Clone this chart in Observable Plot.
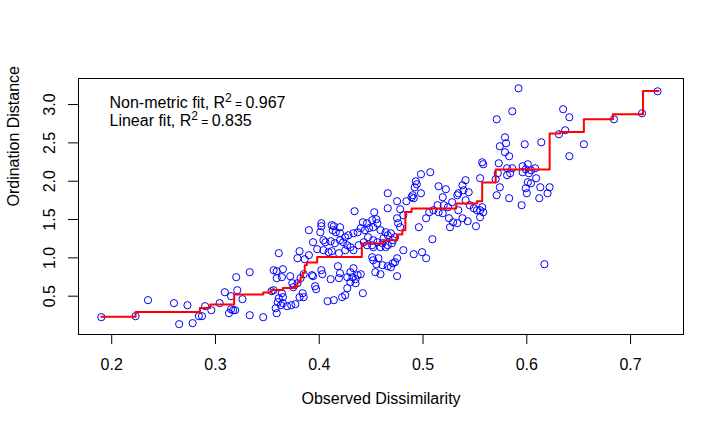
<!DOCTYPE html>
<html><head><meta charset="utf-8">
<script src="https://cdn.jsdelivr.net/npm/d3@7"></script>
<script src="https://cdn.jsdelivr.net/npm/@observablehq/plot@0.6"></script>
<style>body{margin:0;background:#fff;}</style>
</head><body><div id="chart"></div>
<script>
// Observed dissimilarity (x) and ordination distance (y) for each pair
const obsX = [
0.190,0.223,0.235,0.260,0.273,0.265,0.278,0.284,0.287,0.290,0.296,0.304,0.309,0.313,0.315,0.317,0.319,0.315,0.320,0.321,0.326,0.333,0.333,0.346,
0.390,0.402,0.402,0.401,0.412,0.414,0.420,0.413,0.416,0.394,0.404,0.406,0.411,0.415,0.381,0.390,0.398,0.404,0.409,0.412,0.419,0.361,0.379,0.386,
0.356,0.359,0.365,0.364,0.359,0.372,0.385,0.393,0.394,0.402,0.403,0.411,0.418,0.420,0.419,0.382,0.379,0.374,0.375,0.396,0.397,0.354,0.356,0.364,
0.365,0.361,0.384,0.385,0.381,0.360,0.365,0.363,0.369,0.373,0.377,0.358,0.359,0.408,0.414,
0.498,0.507,0.493,0.494,0.492,0.498,0.490,0.489,0.491,0.466,0.475,0.484,0.515,0.434,0.453,0.466,0.478,0.514,0.510,0.515,0.506,0.481,0.475,0.476,
0.478,0.503,0.442,0.446,0.451,0.455,0.456,0.452,0.448,0.444,0.440,0.437,0.433,0.428,0.425,0.423,0.427,0.430,0.425,0.433,0.420,0.420,0.459,0.464,
0.466,0.462,0.461,0.466,0.470,0.471,0.473,0.469,0.447,0.452,0.456,0.451,0.446,0.443,0.438,0.452,0.459,0.464,0.496,0.509,0.481,0.491,0.499,0.503,
0.451,0.452,0.457,0.455,0.461,0.466,0.469,0.471,0.475,0.473,0.433,0.430,0.427,0.432,0.435,0.437,0.440,0.430,0.435,0.442,0.427,0.425,0.422,0.454,
0.459,0.475,
0.574,0.580,0.598,0.579,0.583,0.557,0.558,0.573,0.581,0.586,0.596,0.601,0.604,0.572,0.584,0.581,0.596,0.599,0.555,0.570,0.601,0.599,0.600,0.574,
0.541,0.538,0.539,0.544,0.534,0.533,0.522,0.519,0.528,0.520,0.524,0.571,0.583,0.595,0.541,0.545,0.549,0.552,0.557,0.558,0.555,0.519,0.525,0.529,
0.533,0.526,0.538,0.543,0.551,0.555,0.534,0.592,0.586,0.571,0.579,
0.635,0.641,0.684,0.637,0.631,0.614,0.655,0.641,0.711,0.726,0.608,0.602,0.609,0.604,0.613,0.622,0.620,0.612,0.617
];
const ordY = [
0.226,0.239,0.448,0.409,0.382,0.135,0.148,0.239,0.239,0.370,0.317,0.409,0.552,0.278,0.500,0.317,0.317,0.330,0.748,0.578,0.461,0.813,0.252,0.226,
1.361,1.452,1.413,1.334,1.426,1.413,1.400,1.361,1.334,1.204,1.230,1.204,1.217,1.191,1.087,1.035,1.113,1.100,1.074,1.087,1.061,1.061,0.995,0.982,
0.839,0.826,0.852,0.748,0.735,0.761,0.787,0.774,0.761,0.839,0.787,0.722,0.891,0.800,0.735,0.735,0.669,0.669,0.617,0.630,0.591,0.565,0.578,0.539,
0.487,0.474,0.539,0.487,0.487,0.422,0.409,0.382,0.369,0.382,0.396,0.343,0.278,0.435,0.448,
2.091,2.117,1.999,1.960,1.921,1.843,1.817,1.791,1.778,1.843,1.739,1.739,1.934,1.608,1.595,1.647,1.634,1.687,1.621,1.595,1.595,1.556,1.517,1.452,
1.400,1.517,1.465,1.452,1.491,1.504,1.452,1.400,1.387,1.361,1.387,1.334,1.321,1.295,1.269,1.204,1.165,1.139,1.100,1.100,1.321,1.230,1.361,1.334,
1.295,1.256,1.191,1.165,1.191,1.230,1.269,1.321,1.269,1.230,1.204,1.165,1.165,1.204,1.165,1.139,1.139,1.139,1.400,1.243,1.100,1.048,1.074,0.995,
1.008,0.969,0.995,0.917,0.904,0.891,0.878,0.930,0.995,0.943,0.865,0.813,0.748,0.748,0.722,0.774,0.787,0.683,0.669,0.539,0.604,0.513,0.487,0.813,
0.787,0.761,
2.456,2.495,2.482,2.378,2.326,2.247,2.221,2.234,2.169,2.169,2.195,2.221,2.143,2.104,2.104,2.078,2.117,2.156,2.039,2.026,1.987,1.908,1.843,1.921,
2.013,1.947,1.882,1.856,1.843,1.817,1.895,1.791,1.726,1.687,1.661,1.817,1.778,1.687,1.752,1.687,1.647,1.621,1.661,1.595,1.621,1.582,1.517,1.465,
1.452,1.400,1.517,1.478,1.413,1.530,1.621,3.212,2.912,2.808,2.573,
2.939,2.834,2.808,2.665,2.613,2.508,2.482,2.326,2.886,3.173,2.169,2.104,2.039,1.973,1.921,1.921,1.843,1.778,0.917
];
// Monotone (non-metric) step fit
const fitX = [0.190,0.223,0.285,0.295,0.318,0.346,0.354,0.365,0.377,0.379,0.382,0.384,0.386,0.388,0.398,0.441,0.462,0.475,0.480,0.483,0.489,0.532,0.552,0.557,0.570,0.622,0.632,0.655,0.683,0.712,0.727];
const fitY = [0.233,0.295,0.347,0.392,0.522,0.548,0.582,0.608,0.630,0.682,0.744,0.804,0.904,0.939,1.012,1.187,1.230,1.304,1.361,1.599,1.643,1.709,1.739,1.983,2.152,2.622,2.643,2.808,2.873,3.177,3.177];
const xTicks = [0.2,0.3,0.4,0.5,0.6,0.7];
const yTicks = [0.5,1.0,1.5,2.0,2.5,3.0];
const xTitle = "Observed Dissimilarity";
const yTitle = "Ordination Distance";
const fitNames = ["Non-metric fit, R", "Linear fit, R"];
const fitR2 = ["0.967", "0.835"];

const points = obsX.map((x, i) => ({x, y: ordY[i]}));
const fit = fitX.map((x, i) => ({x, y: fitY[i]}));
const font = "'Liberation Sans', Arial, Helvetica, sans-serif";

const chart = Plot.plot({
  width: 720, height: 432,
  marginLeft: 78, marginRight: 37, marginTop: 78, marginBottom: 98,
  style: {fontFamily: font, fontSize: "16px", background: "#ffffff", color: "#000"},
  x: {domain: [0.168, 0.751]},
  y: {domain: [0, 3.34]},
  marks: [
    Plot.dot(points, {x: "x", y: "y", r: 3.6, stroke: "blue", fill: "none", strokeWidth: 1}),
    Plot.line(fit, {x: "x", y: "y", curve: "step-after", stroke: "red", strokeWidth: 2}),
    Plot.frame({stroke: "#000", strokeWidth: 1}),
    Plot.axisX({ticks: xTicks, tickSize: 10, tickPadding: 14, tickFormat: d => d.toFixed(1), label: null, fontSize: 16}),
    Plot.axisY({ticks: yTicks, tickSize: 10, tickFormat: () => "", label: null}),
    Plot.text(yTicks, {y: d => d, text: d => d.toFixed(1), frameAnchor: "left", dx: -29, rotate: -90, textAnchor: "middle", fontSize: 16}),
    Plot.text([xTitle], {text: d => d, frameAnchor: "bottom", dy: 69, fontSize: 16}),
    Plot.text([yTitle], {text: d => d, frameAnchor: "left", dx: -65, rotate: -90, fontSize: 16}),
    Plot.text([fitNames[0]], {text: d => d, frameAnchor: "top-left", textAnchor: "start", dx: 31, dy: 18, fontSize: 16}),
    Plot.text([fitNames[1]], {text: d => d, frameAnchor: "top-left", textAnchor: "start", dx: 31, dy: 36, fontSize: 16})
  ]
});
// superscript 2 and the R² values as real text
chart.querySelectorAll("text").forEach(t => {
  const i = fitNames.indexOf(t.textContent);
  if (i < 0) return;
  const ns = "http://www.w3.org/2000/svg";
  const sup = document.createElementNS(ns, "tspan");
  sup.setAttribute("dy", "-6");
  sup.setAttribute("font-size", "12");
  sup.textContent = "2";
  const eq = document.createElementNS(ns, "tspan");
  eq.setAttribute("dy", "6");
  eq.setAttribute("font-size", "12");
  eq.textContent = " = ";
  const val = document.createElementNS(ns, "tspan");
  val.textContent = fitR2[i];
  t.appendChild(sup); t.appendChild(eq); t.appendChild(val);
});
document.getElementById("chart").appendChild(chart);
</script>
</body></html>
